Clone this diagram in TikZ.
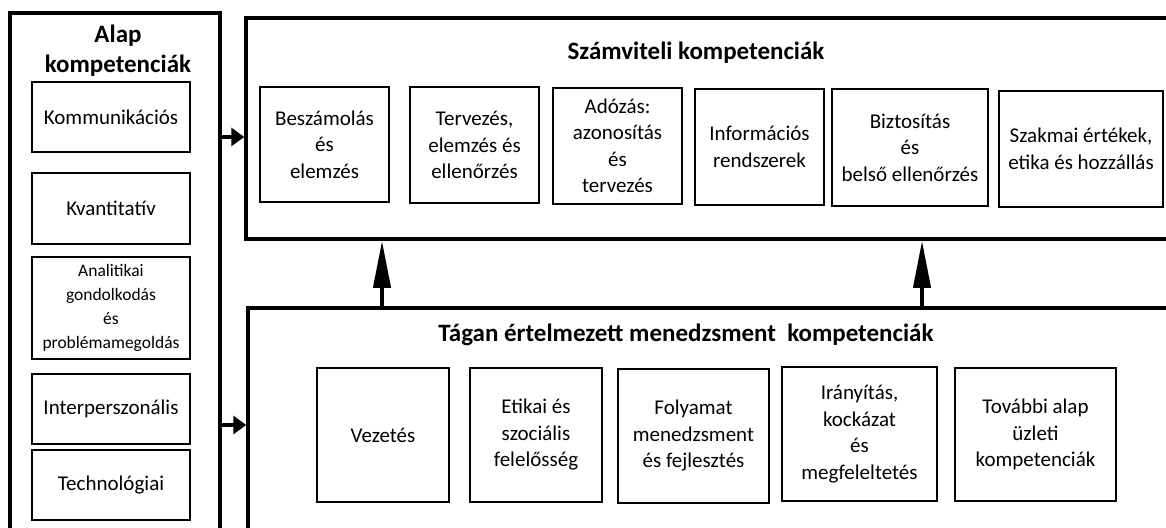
\documentclass[tikz,border=0pt]{standalone}
\usepackage{fontspec}
\setmainfont{Carlito}
\usetikzlibrary{arrows.meta}

\begin{document}
\begin{tikzpicture}[x=1pt, y=-1pt,
	outer/.style={draw, line width=3.5pt, inner sep=0pt},
	kbox/.style={draw, line width=2pt, align=center, inner sep=0pt, font=\fontsize{21}{26.5}\selectfont},
	cim/.style={align=center, font=\fontsize{25}{30}\selectfont\bfseries},
	harr/.style={line width=3.5pt, -{Triangle[length=13pt, width=18pt]}},
	varr/.style={line width=4pt, -{Triangle[length=47pt, width=17pt]}}]
	
	\useasboundingbox (0,0) rectangle (1166,527);
	\clip (0,0) rectangle (1166,527);
	
	% outer frames
	\node[outer, minimum width=210pt, minimum height=532pt] (alap) at (115,279) {};
	\node[outer, minimum width=944pt, minimum height=221pt] (szamv) at (718,128.5) {};
	\node[outer, minimum width=942pt, minimum height=237pt] (menedzs) at (719,426.5) {};
	
	\node[cim] (alapcim) at (118,51) {Alap\\kompetenciák};
	\node[cim] (szamvcim) at (696,53) {Számviteli kompetenciák};
	\node[cim] (menedzscim) at (686,335) {Tágan értelmezett menedzsment\ \ kompetenciák};
	
	% alap kompetenciak
	\foreach \n/\y/\bh/\txt in {
		komm/117/70/{Kommunikációs},
		kvant/208.5/71/{Kvantitatív},
		inter/409/70/{Interperszonális},
		tech/485/70/{Technológiai}}{
		\node[kbox, minimum width=158pt, minimum height=\bh pt] (\n) at (111,\y) {\txt};
	}
	\node[kbox, minimum width=158pt, minimum height=102pt, font=\fontsize{17.5}{24}\selectfont]
		(anal) at (111,308) {Analitikai\\gondolkodás\\és\\problémamegoldás};
	
	% szamviteli kompetenciak
	\foreach \n/\x/\y/\bw/\bh/\txt in {
		besz/324.5/144.5/129/115/{Beszámolás\\és\\elemzés},
		terv/474.5/145/129/116/{Tervezés,\\elemzés és\\ellenőrzés},
		adoz/617.5/146/129/116/{Adózás:\\azonosítás\\és\\tervezés},
		info/759.5/147/129/116/{Információs\\rendszerek},
		bizt/910/147.5/156/117/{Biztosítás\\és\\belső ellenőrzés},
		szakm/1081/149/164/116/{Szakmai értékek,\\etika és hozzállás}}{
		\node[kbox, minimum width=\bw pt, minimum height=\bh pt] (\n) at (\x,\y) {\txt};
	}
	
	% menedzsment kompetenciak
	\foreach \n/\x/\y/\bw/\bh/\txt in {
		vez/383/435/132/134/{Vezetés},
		etik/536/435/132/134/{Etikai és\\szociális\\felelősség},
		foly/693.5/436/151/134/{Folyamat\\menedzsment\\és fejlesztés},
		irany/859.5/434/155/134/{Irányítás,\\kockázat\\és\\megfeleltetés},
		tovabb/1035.5/434.5/161/133/{További alap\\üzleti\\kompetenciák}}{
		\node[kbox, minimum width=\bw pt, minimum height=\bh pt] (\n) at (\x,\y) {\txt};
	}
	
	% nyilak
	\draw[harr] (alap.east |- 0,137) -- (szamv.west |- 0,137);
	\draw[harr] (alap.east |- 0,425) -- (menedzs.west |- 0,425);
	\draw[varr] (menedzs.north -| 382,0) -- (szamv.south -| 382,0);
	\draw[varr] (menedzs.north -| 922,0) -- (szamv.south -| 922,0);
	
\end{tikzpicture}
\end{document}
